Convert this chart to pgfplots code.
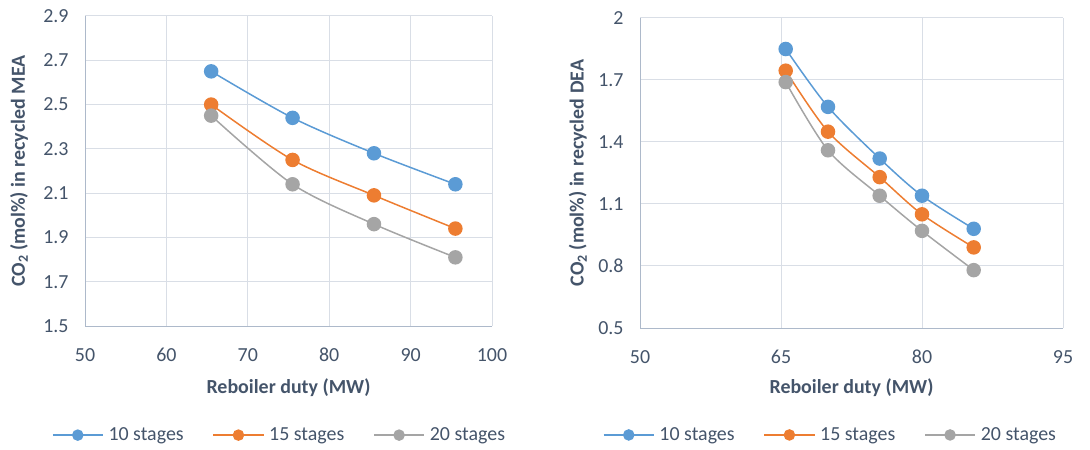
\documentclass[border=0pt]{standalone}
\usepackage{fontspec}
\setmainfont{Carlito}
\usepackage{pgfplots}
\pgfplotsset{compat=1.18}
\definecolor{c1}{HTML}{5B9BD5}
\definecolor{c2}{HTML}{ED7D31}
\definecolor{c3}{HTML}{A5A5A5}
\definecolor{txt}{HTML}{44546A}
\definecolor{gridc}{HTML}{D9DEE6}
\definecolor{axc}{HTML}{ADB9CA}
\pgfplotsset{
  excel/.style={
    scale only axis,
    anchor=south west,
    font=\fontsize{20}{24}\selectfont,
    xticklabel style={anchor=base, yshift=-35.5bp, text=txt},
    yticklabel style={anchor=east, xshift=-13bp, text=txt},
    label style={text=txt, font=\fontsize{20}{24}\selectfont\bfseries},
    grid=major,
    major grid style={gridc, line width=1bp},
    axis lines*=left,
    axis line style={axc, line width=1bp, -},
    major tick length=0pt,
    clip=false,
    every axis plot/.append style={line width=1.5bp, smooth, tension=0.5, mark=*, mark size=6.5bp},
    legend image code/.code={
      \draw[##1, mark size=5bp, mark repeat=2, mark phase=2] plot coordinates {(0bp,0bp) (25bp,0bp) (50bp,0bp)};
    },
    legend style={draw=none, fill=none, inner sep=0pt, outer sep=0pt, anchor=west,
      legend columns=3,
      font=\fontsize{20}{24}\selectfont, text=txt,
      nodes={inner sep=0pt},
      /tikz/every odd column/.append style={column sep=5bp},
      /tikz/every even column/.append style={column sep=29bp}},
  }
}
\begin{document}
\begin{tikzpicture}
\useasboundingbox (0,0) rectangle (1090bp,450bp);
\begin{axis}[excel,
  at={(85bp,124bp)}, width=407bp, height=310bp,
  xmin=50, xmax=100, ymin=1.5, ymax=2.9,
  xtick={50,60,70,80,90,100}, xticklabels={50,60,70,80,90,100},
  ytick={1.5,1.7,1.9,2.1,2.3,2.5,2.7,2.9}, yticklabels={1.5,1.7,1.9,2.1,2.3,2.5,2.7,2.9},
  xlabel={Reboiler duty (MW)},
  xlabel style={at={(axis description cs:0.5,-0.2)}, anchor=center},
  ylabel={CO\textsubscript{2} (mol\%) in recycled MEA},
  ylabel style={at={(axis description cs:-0.162,0.5)}, anchor=center},
  legend style={at={(axis description cs:-0.081,-0.352)}},
]
\addplot[c1, mark options={fill=c1, draw=c1}] coordinates {(65.5,2.65) (75.5,2.44) (85.5,2.28) (95.5,2.14)};
\addplot[c2, mark options={fill=c2, draw=c2}] coordinates {(65.5,2.50) (75.5,2.25) (85.5,2.09) (95.5,1.94)};
\addplot[c3, mark options={fill=c3, draw=c3}] coordinates {(65.5,2.45) (75.5,2.14) (85.5,1.96) (95.5,1.81)};
\legend{10 stages, 15 stages, 20 stages}
\end{axis}
\begin{axis}[excel,
  at={(640bp,122bp)}, width=423bp, height=310bp,
  xmin=50, xmax=95, ymin=0.5, ymax=2,
  xtick={50,65,80,95}, xticklabels={50,65,80,95},
  ytick={0.5,0.8,1.1,1.4,1.7,2}, yticklabels={0.5,0.8,1.1,1.4,1.7,2},
  xlabel={Reboiler duty (MW)},
  xlabel style={at={(axis description cs:0.5,-0.194)}, anchor=center},
  ylabel={CO\textsubscript{2} (mol\%) in recycled DEA},
  ylabel style={at={(axis description cs:-0.147,0.5)}, anchor=center},
  legend style={at={(axis description cs:-0.0875,-0.345)}},
]
\addplot[c1, mark options={fill=c1, draw=c1}] coordinates {(65.5,1.85) (70,1.57) (75.5,1.32) (80,1.14) (85.5,0.98)};
\addplot[c2, mark options={fill=c2, draw=c2}] coordinates {(65.5,1.745) (70,1.45) (75.5,1.23) (80,1.05) (85.5,0.89)};
\addplot[c3, mark options={fill=c3, draw=c3}] coordinates {(65.5,1.69) (70,1.36) (75.5,1.14) (80,0.97) (85.5,0.78)};
\legend{10 stages, 15 stages, 20 stages}
\end{axis}
\end{tikzpicture}
\end{document}
